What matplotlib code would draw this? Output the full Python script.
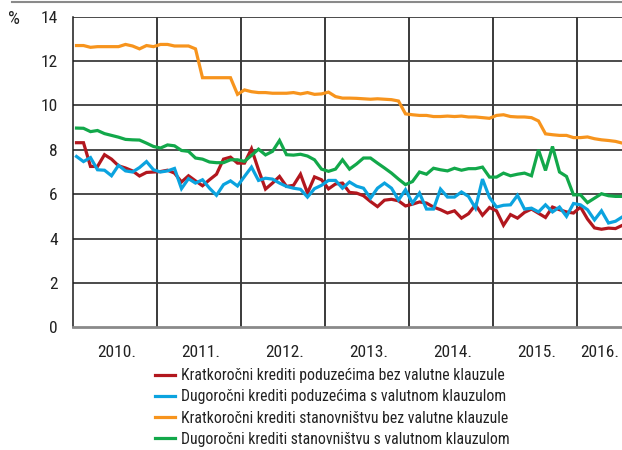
import matplotlib
matplotlib.use("Agg")
import matplotlib.pyplot as plt
from matplotlib import font_manager
from matplotlib.font_manager import FontProperties
from matplotlib.lines import Line2D

# pick a condensed sans font if one is installed
def pick_font():
    prefs = ["liberation sans narrow", "roboto condensed", "dejavu sans condensed",
             "noto sans condensed", "open sans condensed", "arial narrow"]
    found = []
    for f in font_manager.fontManager.ttflist:
        nm = f.name.lower()
        fn = f.fname.lower()
        st = str(f.stretch).lower()
        w = f.weight
        if f.style != "normal":
            continue
        if w not in (400, "normal", "regular", "book"):
            continue
        if "mono" in nm or "mono" in fn or "serif" in nm.replace("sans serif", ""):
            continue
        if ("narrow" in nm or "condensed" in nm or "narrow" in fn or "condensed" in fn
                or st in ("condensed", "semi-condensed")):
            if "extra" in fn or "ultra" in fn or "semicondensed" in fn.replace("-", ""):
                continue
            found.append(f)
    def score(f):
        key = (f.name + " " + f.fname).lower()
        for i, p in enumerate(prefs):
            if p.split()[0] in key and ("narrow" in key or "condensed" in key):
                return i
        return len(prefs)
    found.sort(key=score)
    return found[0].fname if found else None

FPATH = pick_font()

def fp(size):
    if FPATH:
        return FontProperties(fname=FPATH, size=size)
    return FontProperties(family=["Liberation Sans", "DejaVu Sans"], size=size * 0.85)

years = ["2010.", "2011.", "2012.", "2013.", "2014.", "2015.", "2016."]
labels = [
    "Kratkoročni krediti poduzećima bez valutne klauzule",
    "Dugoročni krediti poduzećima s valutnom klauzulom",
    "Kratkoročni krediti stanovništvu bez valutne klauzule",
    "Dugoročni krediti stanovništvu s valutnom klauzulom",
]

# monthly, Jan 2010 - Jul 2016
red = [8.32, 8.32, 7.25, 7.25, 7.78, 7.58, 7.28, 7.18, 7.05, 6.82, 6.98, 7.00,
       7.02, 7.08, 6.95, 6.55, 6.83, 6.60, 6.38, 6.65, 6.90, 7.58, 7.67, 7.40,
       7.40, 8.05, 7.10, 6.23, 6.50, 6.80, 6.35, 6.40, 6.90, 6.05, 6.78, 6.65,
       6.24, 6.46, 6.50, 6.08, 6.05, 5.93, 5.67, 5.44, 5.73, 5.77, 5.70, 5.47,
       5.55, 5.65, 5.60, 5.42, 5.30, 5.15, 5.25, 4.92, 5.12, 5.52, 5.05, 5.40,
       5.25, 4.60, 5.08, 4.92, 5.18, 5.33, 5.14, 4.95, 5.42, 5.30, 5.20, 5.15,
       5.42, 4.88, 4.48, 4.42, 4.47, 4.45, 4.60]
blue = [7.70, 7.47, 7.65, 7.10, 7.08, 6.83, 7.30, 7.05, 7.00, 7.20, 7.47, 7.10,
        7.00, 7.05, 7.16, 6.25, 6.70, 6.50, 6.65, 6.27, 5.95, 6.43, 6.60, 6.37,
        6.80, 7.22, 6.62, 6.72, 6.68, 6.50, 6.35, 6.27, 6.22, 5.87, 6.25, 6.40,
        6.62, 6.62, 6.27, 6.55, 6.36, 6.27, 5.82, 6.27, 6.50, 6.27, 5.74, 6.20,
        5.60, 6.05, 5.33, 5.33, 6.23, 5.87, 5.87, 6.10, 5.90, 5.37, 6.68, 5.85,
        5.42, 5.50, 5.52, 5.95, 5.33, 5.37, 5.20, 5.52, 5.20, 5.42, 5.00, 5.58,
        5.52, 5.30, 4.84, 5.25, 4.70, 4.78, 4.98]
orange = [12.70, 12.70, 12.62, 12.65, 12.65, 12.65, 12.65, 12.75, 12.68, 12.55, 12.70, 12.65,
          12.75, 12.75, 12.68, 12.68, 12.68, 12.55, 11.25, 11.25, 11.25, 11.25, 11.25, 10.50,
          10.70, 10.62, 10.58, 10.58, 10.55, 10.55, 10.55, 10.58, 10.52, 10.58, 10.50, 10.52,
          10.60, 10.40, 10.33, 10.33, 10.32, 10.30, 10.28, 10.30, 10.28, 10.26, 10.20, 9.62,
          9.58, 9.55, 9.55, 9.50, 9.50, 9.52, 9.50, 9.52, 9.48, 9.48, 9.45, 9.42,
          9.55, 9.58, 9.50, 9.48, 9.48, 9.45, 9.30, 8.72, 8.68, 8.65, 8.65, 8.55,
          8.55, 8.58, 8.50, 8.45, 8.42, 8.38, 8.30]
green = [8.98, 8.97, 8.82, 8.87, 8.73, 8.65, 8.57, 8.47, 8.45, 8.44, 8.30, 8.15,
         8.08, 8.22, 8.18, 7.97, 7.93, 7.63, 7.58, 7.45, 7.42, 7.42, 7.55, 7.55,
         7.48, 7.75, 8.03, 7.77, 7.93, 8.42, 7.78, 7.76, 7.80, 7.72, 7.55, 7.13,
         7.03, 7.13, 7.55, 7.13, 7.36, 7.63, 7.63, 7.40, 7.18, 6.95, 6.68, 6.43,
         6.57, 7.00, 6.90, 7.17, 7.10, 7.05, 7.17, 7.08, 7.15, 7.15, 7.22, 6.77,
         6.77, 6.95, 6.83, 6.90, 6.95, 6.83, 8.00, 7.07, 8.15, 7.00, 6.80, 5.97,
         5.97, 5.62, 5.82, 6.02, 5.93, 5.90, 5.90]

series = [red, blue, orange, green]
colors = ["#B2171E", "#0BA3DF", "#F7941D", "#12A84A"]

fig = plt.figure(figsize=(6.22, 4.5), dpi=100)
ax = fig.add_axes([73 / 622, 1 - 327.3 / 450, 549 / 622, (327.3 - 16.7) / 450])

x = list(range(len(red)))
XMAX = 77.93
ax.set_xlim(-0.5, XMAX)
ax.set_ylim(0, 14)

# grid
for yv in range(2, 15, 2):
    ax.axhline(yv, color="#1a1a1a", lw=1.1, zorder=1)
for k in range(6):
    ax.axvline(11.5 + 12 * k, color="#3a3a3a", lw=1.4, zorder=1)

lines = []
for s, c in zip(series, colors):
    (ln,) = ax.plot(x, s, color=c, lw=2.3, solid_joinstyle="miter", zorder=3)
    lines.append(ln)

for sp in ["top", "right"]:
    ax.spines[sp].set_visible(False)
ax.spines["left"].set_color("#1a1a1a")
ax.spines["left"].set_linewidth(1.1)
ax.spines["bottom"].set_color("#8a8a8a")
ax.spines["bottom"].set_linewidth(2.0)

TXT = "#222222"
ax.set_yticks(range(0, 15, 2))
ax.set_yticklabels([str(v) for v in range(0, 15, 2)], color=TXT)
ax.tick_params(axis="y", length=0, pad=11)

xt = [5.5 + 12 * k + 0.3 for k in range(6)] + [(71.5 + XMAX) / 2]
ax.set_xticks(xt)
ax.set_xticklabels(years, color=TXT)
ax.tick_params(axis="x", length=0, pad=13)
for t in ax.get_xticklabels() + ax.get_yticklabels():
    t.set_fontproperties(fp(12.5))

fig.text(8 / 622, 1 - 19 / 450, "%", fontproperties=fp(13.5), color=TXT, va="center", ha="left")

# top decorative line
fig.add_artist(Line2D([12 / 622, 1.0], [1 - 2 / 450, 1 - 2 / 450], color="#8a8a8a", lw=1.5))

leg = fig.legend(lines, labels, loc="upper left", bbox_to_anchor=(155 / 622, 1 - 368 / 450),
                 frameon=False, prop=fp(11.3), handlelength=1.3, handletextpad=0.35,
                 labelspacing=0.4, borderaxespad=0, borderpad=0)
for t in leg.get_texts():
    t.set_color(TXT)

fig.savefig("out.png", dpi=100)
